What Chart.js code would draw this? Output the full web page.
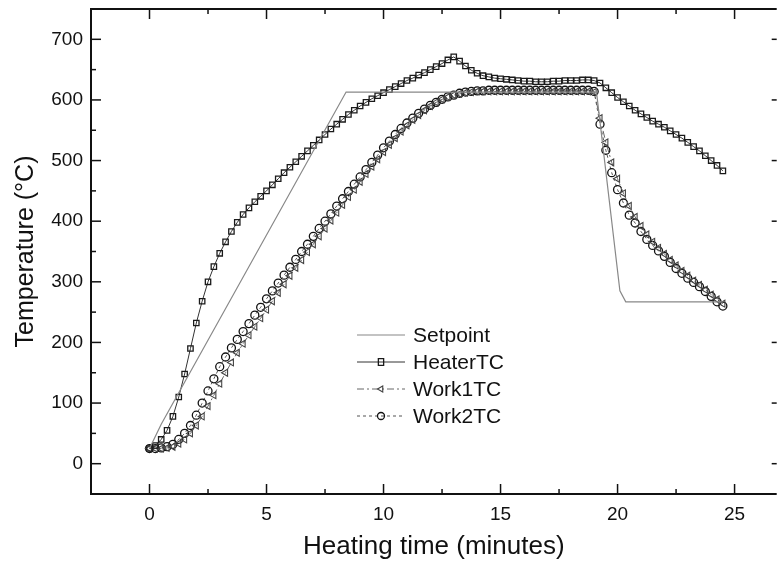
<!DOCTYPE html>
<html>
<head>
<meta charset="utf-8">
<script src="https://cdn.jsdelivr.net/npm/chart.js@4.4.1/dist/chart.umd.min.js"></script>
<style>
  html, body { margin: 0; padding: 0; background: #fff; }
  #wrap { width: 782px; height: 565px; }
</style>
</head>
<body>
<div id="wrap"><canvas id="chart"></canvas></div>
<script>
// minutes, sampled every 15 s
const times = [
  0, 0.25, 0.5, 0.75, 1, 1.25, 1.5, 1.75, 2, 2.25, 2.5, 2.75, 3, 3.25, 3.5, 3.75,
  4, 4.25, 4.5, 4.75, 5, 5.25, 5.5, 5.75, 6, 6.25, 6.5, 6.75, 7, 7.25, 7.5, 7.75,
  8, 8.25, 8.5, 8.75, 9, 9.25, 9.5, 9.75, 10, 10.25, 10.5, 10.75, 11, 11.25, 11.5, 11.75,
  12, 12.25, 12.5, 12.75, 13, 13.25, 13.5, 13.75, 14, 14.25, 14.5, 14.75, 15, 15.25, 15.5, 15.75,
  16, 16.25, 16.5, 16.75, 17, 17.25, 17.5, 17.75, 18, 18.25, 18.5, 18.75, 19, 19.25, 19.5, 19.75,
  20, 20.25, 20.5, 20.75, 21, 21.25, 21.5, 21.75, 22, 22.25, 22.5, 22.75, 23, 23.25, 23.5, 23.75,
  24, 24.25, 24.5
];

const heaterTC = [
  25, 30, 40, 55, 78, 110, 148, 190, 232, 268, 300, 325, 347, 366, 383, 398,
  411, 422, 432, 441, 450, 460, 470, 480, 489, 498, 507, 516, 525, 534, 543, 552,
  560, 568, 576, 583, 590, 596, 602, 607, 612, 617, 622, 627, 632, 636, 641, 645,
  650, 655, 660, 666, 671, 664, 656, 649, 644, 640, 638, 636, 635, 634, 633, 632,
  631, 631, 630, 630, 630, 631, 631, 632, 632, 632, 633, 633, 632, 628, 620, 612,
  604, 597, 590, 583, 577, 571, 565, 560, 555, 549, 543, 537, 530, 523, 516, 508,
  500, 492, 483
];

const work1TC = [
  25, 25, 25, 26, 28, 33, 40, 50, 63, 78, 95, 113, 132, 150, 167, 183,
  198, 212, 226, 240, 254, 268, 282, 296, 310, 323, 336, 349, 362, 375, 388, 401,
  414, 427, 440, 452, 465, 478, 490, 502, 514, 526, 537, 548, 558, 567, 575, 583,
  590, 596, 601, 605, 608, 610, 612, 613, 614, 614, 614, 614, 614, 614, 614, 614,
  614, 614, 614, 614, 614, 614, 614, 614, 614, 614, 614, 614, 613, 570, 530, 497,
  470, 446, 425, 407, 392, 378, 366, 356, 346, 336, 327, 318, 310, 302, 295, 287,
  279, 271, 264
];

const work2TC = [
  25, 25, 26, 28, 32, 40, 50, 63, 80, 100, 120, 140, 160, 176, 191, 205,
  218, 231, 245, 258, 272, 285, 298, 311, 324, 337, 350, 362, 375, 388, 400, 412,
  425, 437, 449, 461, 473, 485, 497, 509, 521, 532, 543, 553, 562, 570, 578, 585,
  591, 596, 601, 605, 608, 611, 613, 614, 615, 615, 616, 616, 616, 616, 616, 616,
  616, 616, 616, 616, 616, 616, 616, 616, 616, 616, 616, 616, 614, 560, 517, 480,
  452, 430, 410, 397, 383, 370, 360, 351, 342, 332, 322, 314, 306, 299, 292, 284,
  276, 267, 260
];

// setpoint program is piecewise linear
const setpointTimes = [0, 0.5, 8.4, 19.1, 20.1, 20.35, 24.5];
const setpointTemps = [25, 65, 613, 613, 285, 267, 267];

const xTicks = [0, 5, 10, 15, 20, 25];
const xMinor = [2.5, 7.5, 12.5, 17.5, 22.5];
const yTicks = [0, 100, 200, 300, 400, 500, 600, 700];
const yMinor = [50, 150, 250, 350, 450, 550, 650];

const pairs = (xs, ys) => xs.map((x, i) => ({ x, y: ys[i] }));
const INK = '#111';
const FONT = '"Liberation Sans", Arial, sans-serif';

function drawMarker(ctx, style, x, y, r, rot) {
  ctx.beginPath();
  if (style === 'circle') {
    ctx.arc(x, y, r, 0, Math.PI * 2);
  } else if (style === 'rect') {
    ctx.rect(x - r * 0.8, y - r, r * 1.6, r * 2);
  } else if (style === 'triangle') {
    const a = (rot || 0) * Math.PI / 180;
    for (let k = 0; k < 3; k++) {
      const t = a + k * 2 * Math.PI / 3 - Math.PI / 2;
      const px = x + Math.cos(t) * r, py = y + Math.sin(t) * r;
      k ? ctx.lineTo(px, py) : ctx.moveTo(px, py);
    }
    ctx.closePath();
  }
  ctx.stroke();
}

function noEdgePadding(s) {
  s.paddingTop = 0; s.paddingBottom = 0;
  s.paddingLeft = 0; s.paddingRight = 0;
}

const framePlugin = {
  id: 'frame',
  afterDraw(chart) {
    const { ctx, chartArea: a, scales: { x, y } } = chart;
    ctx.save();
    ctx.strokeStyle = INK;
    ctx.lineWidth = 2;
    ctx.beginPath();
    ctx.moveTo(a.right, a.top); ctx.lineTo(a.left, a.top);
    ctx.lineTo(a.left, a.bottom); ctx.lineTo(a.right, a.bottom);
    ctx.stroke();

    ctx.lineWidth = 1.5;
    const seg = (x1, y1, x2, y2) => { ctx.beginPath(); ctx.moveTo(x1, y1); ctx.lineTo(x2, y2); ctx.stroke(); };
    xTicks.forEach(v => {
      const p = x.getPixelForValue(v);
      seg(p, a.bottom, p, a.bottom - 10);
      seg(p, a.top, p, a.top + 10);
    });
    xMinor.forEach(v => {
      const p = x.getPixelForValue(v);
      seg(p, a.bottom, p, a.bottom - 5);
      seg(p, a.top, p, a.top + 5);
    });
    yTicks.forEach(v => {
      const p = y.getPixelForValue(v);
      seg(a.left, p, a.left + 10, p);
      seg(a.right, p, a.right - 5, p);
    });
    yMinor.forEach(v => {
      const p = y.getPixelForValue(v);
      seg(a.left, p, a.left + 5, p);
    });

    // legend sits inside the plot, lower middle
    const lx = a.left + 266, lw = 48, top = 335, step = 27;
    ctx.font = '21px ' + FONT;
    ctx.textBaseline = 'middle';
    ctx.fillStyle = INK;
    chart.data.datasets.forEach((ds, i) => {
      const ly = top + i * step;
      ctx.strokeStyle = ds.borderColor;
      ctx.lineWidth = ds.borderWidth;
      ctx.setLineDash(ds.borderDash || []);
      seg(lx, ly, lx + lw, ly);
      ctx.setLineDash([]);
      if (ds.pointRadius > 0) {
        ctx.strokeStyle = ds.pointBorderColor;
        ctx.lineWidth = ds.pointBorderWidth;
        drawMarker(ctx, ds.pointStyle, lx + lw / 2, ly, ds.pointRadius - 0.5, ds.pointRotation);
      }
      ctx.fillText(ds.label, lx + lw + 8, ly + 1);
    });
    ctx.restore();
  }
};

new Chart(document.getElementById('chart'), {
  type: 'line',
  data: {
    datasets: [
      {
        label: 'Setpoint',
        data: pairs(setpointTimes, setpointTemps),
        borderColor: '#888', borderWidth: 1.2,
        pointRadius: 0,
      },
      {
        label: 'HeaterTC',
        data: pairs(times, heaterTC),
        borderColor: '#333', borderWidth: 1,
        pointStyle: 'rect', pointRadius: 3.8, pointRotation: 0,
        pointBorderColor: '#1a1a1a', pointBorderWidth: 1.3, pointBackgroundColor: 'rgba(0,0,0,0)',
      },
      {
        label: 'Work1TC',
        data: pairs(times, work1TC),
        borderColor: '#666', borderWidth: 1, borderDash: [7, 3, 2, 3],
        pointStyle: 'triangle', pointRadius: 4, pointRotation: 270,
        pointBorderColor: '#444', pointBorderWidth: 1.1, pointBackgroundColor: 'rgba(0,0,0,0)',
      },
      {
        label: 'Work2TC',
        data: pairs(times, work2TC),
        borderColor: '#555', borderWidth: 1, borderDash: [3, 3],
        pointStyle: 'circle', pointRadius: 4, pointRotation: 0,
        pointBorderColor: '#111', pointBorderWidth: 1.3, pointBackgroundColor: 'rgba(0,0,0,0)',
      },
    ]
  },
  options: {
    responsive: true, maintainAspectRatio: false, animation: false,
    layout: { padding: { top: 9, right: 0, left: 0, bottom: 0 } },
    plugins: { legend: { display: false }, tooltip: { enabled: false } },
    elements: { line: { tension: 0 } },
    scales: {
      x: {
        type: 'linear', min: -2.5, max: 26.8,
        grid: { display: false, drawTicks: false },
        border: { display: false },
        afterBuildTicks: s => { s.ticks = xTicks.map(v => ({ value: v })); },
        afterFit: s => { s.height = 71; noEdgePadding(s); },
        ticks: { color: INK, padding: 9, maxRotation: 0, autoSkip: false,
          font: { family: FONT, size: 19 } },
        title: { display: true, text: 'Heating time (minutes)', color: INK,
          font: { family: FONT, size: 26 },
          padding: { top: 0, bottom: 3 } }
      },
      y: {
        min: -50, max: 750,
        grid: { display: false, drawTicks: false },
        border: { display: false },
        afterBuildTicks: s => { s.ticks = yTicks.map(v => ({ value: v })); },
        afterFit: s => { s.width = 91; noEdgePadding(s); },
        ticks: { color: INK, padding: 8,
          font: { family: FONT, size: 19 } },
        title: { display: true, text: 'Temperature (°C)', color: INK,
          font: { family: FONT, size: 25 },
          padding: { top: 11, bottom: 0 } }
      }
    }
  },
  plugins: [framePlugin]
});
</script>
</body>
</html>
